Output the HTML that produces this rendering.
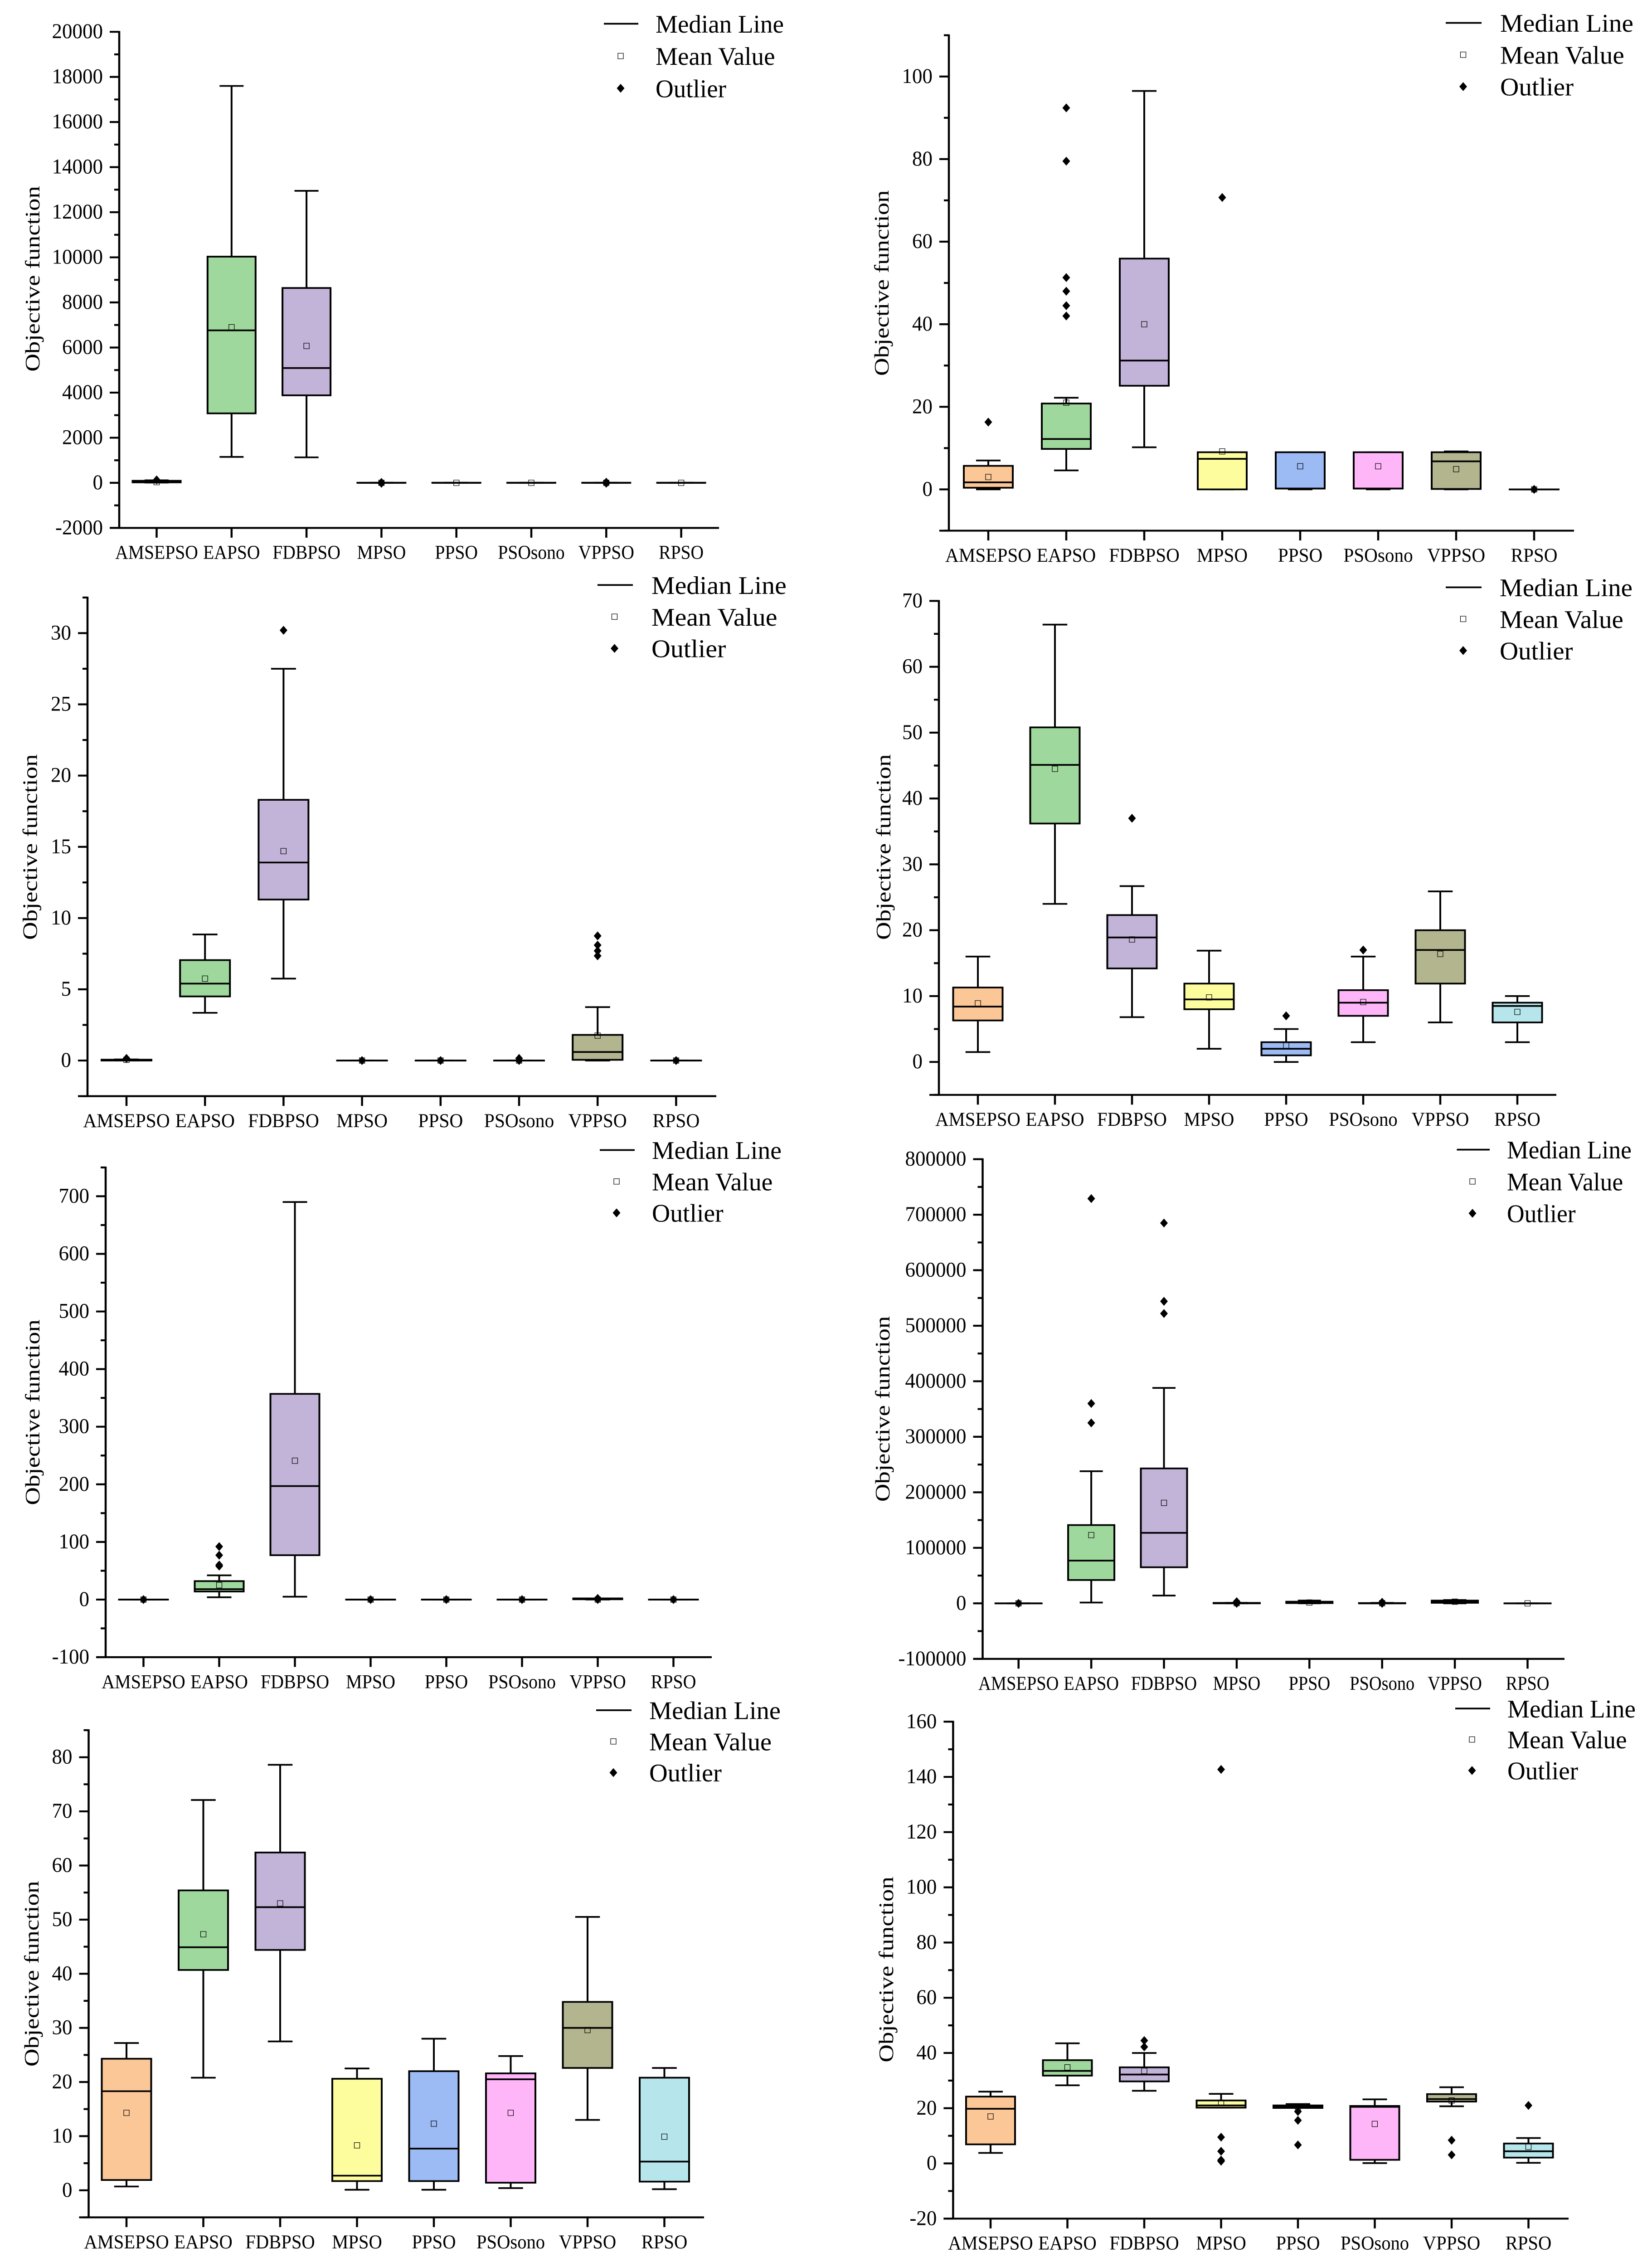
<!DOCTYPE html>
<html lang="en">
<head>
<meta charset="utf-8">
<title>Objective function box plots</title>
<style>
html,body{margin:0;padding:0;background:#fff;width:100%;height:100%;overflow:hidden;}
svg{display:block;position:fixed;left:0;top:0;width:100vw;height:100vh;}
text{font-family:"Liberation Serif","Times New Roman",serif;fill:#000;}
</style>
</head>
<body>
<svg id="figure" xmlns="http://www.w3.org/2000/svg" viewBox="0 0 3644 5342" preserveAspectRatio="none"></svg>
<script>
const categories = ['AMSEPSO','EAPSO','FDBPSO','MPSO','PPSO','PSOsono','VPPSO','RPSO'];
const boxColors = ['#FCC797','#9FD89C','#C2B3D8','#FDFD9E','#9CBAF4','#FEB6F8','#B2B58E','#B6E6EC'];
const legendLabels = ['Median Line','Mean Value','Outlier'];
const yAxisTitle = 'Objective function';

const p1Ticks = [-2000,0,2000,4000,6000,8000,10000,12000,14000,16000,18000,20000];
const p1WhiskerLow = [10,1150,1130,0,0,0,0,0];
const p1Q1 = [20,3080,3880,0,0,0,0,0];
const p1Median = [60,6760,5090,0,0,0,0,0];
const p1Q3 = [90,10030,8640,5,5,5,5,5];
const p1WhiskerHigh = [110,17600,12950,5,5,5,5,5];
const p1Mean = [30,6900,6070,0,0,0,0,0];
const p1Outliers = [[130],[],[],[20,-20],[],[],[30,-20],[]];

const p2Ticks = [0,20,40,60,80,100];
const p2WhiskerLow = [0,4.6,10.2,0,0,0,0,0];
const p2Q1 = [0.4,9.8,25.1,0,0.2,0.2,0.1,0];
const p2Median = [1.7,12.2,31.2,7.4,0.2,0.2,6.8,0];
const p2Q3 = [5.7,20.8,55.9,9,9,9,9,0];
const p2WhiskerHigh = [7,22.2,96.5,9,9,9,9.2,0];
const p2Mean = [3,21,40,9.2,5.6,5.6,4.9,0];
const p2Outliers = [[16.3],[92.4,79.5,51.3,48,44.5,42],[],[70.7],[],[],[],[0]];

const p3Ticks = [0,5,10,15,20,25,30];
const p3WhiskerLow = [0,3.35,5.75,0,0,0,0,0];
const p3Q1 = [0,4.5,11.3,0,0,0,0.05,0];
const p3Median = [0.03,5.4,13.9,0,0,0,0.6,0];
const p3Q3 = [0.06,7.05,18.3,0,0,0,1.8,0];
const p3WhiskerHigh = [0.08,8.85,27.5,0,0,0,3.75,0];
const p3Mean = [0.05,5.75,14.7,0,0,0,1.75,0];
const p3Outliers = [[0.15],[],[30.2],[0],[0],[0.15,0],[8.75,8.1,7.7,7.35],[0]];

const p4Ticks = [0,10,20,30,40,50,60,70];
const p4WhiskerLow = [1.5,24,6.8,2,0,3,6,3];
const p4Q1 = [6.3,36.2,14.2,8,1,7,11.9,6];
const p4Median = [8.4,45.1,18.9,9.5,2,9,17,8.5];
const p4Q3 = [11.3,50.8,22.3,11.9,3,10.9,20,9];
const p4WhiskerHigh = [16,66.4,26.7,16.9,5,16,25.9,10];
const p4Mean = [8.9,44.5,18.6,9.8,2.5,9.1,16.4,7.6];
const p4Outliers = [[],[],[37],[],[7],[17],[],[]];

const p5Ticks = [-100,0,100,200,300,400,500,600,700];
const p5WhiskerLow = [0,4,5,0,0,0,0,0];
const p5Q1 = [0,14,77,0,0,0,0.5,0];
const p5Median = [0,18,197,0,0,0,1,0];
const p5Q3 = [0,32,357,0,0,0,2,0];
const p5WhiskerHigh = [0,42,690,0,0,0,2,0];
const p5Mean = [0,25,241,0,0,0,0,0];
const p5Outliers = [[0],[92,77,60,58],[],[0],[0],[0],[2,0],[0]];

const p6Ticks = [-100000,0,100000,200000,300000,400000,500000,600000,700000,800000];
const p6WhiskerLow = [0,1500,14000,0,0,0,0,0];
const p6Q1 = [0,42000,65000,0,500,0,1000,0];
const p6Median = [0,77000,127000,300,1500,0,3000,0];
const p6Q3 = [0,141000,243000,800,3000,500,5000,0];
const p6WhiskerHigh = [0,238000,388000,1000,5000,800,6000,0];
const p6Mean = [0,123000,181000,500,1500,300,3000,0];
const p6Outliers = [[0],[729000,360000,325000],[685000,544000,522000],[3000,0],[],[2000,0],[],[]];

const p7Ticks = [0,10,20,30,40,50,60,70,80];
const p7WhiskerLow = [0.7,20.8,27.5,0.1,0.1,0.4,13,0.2];
const p7Q1 = [1.9,40.7,44.4,1.7,1.7,1.4,22.6,1.6];
const p7Median = [18.3,44.9,52.3,2.7,7.7,20.5,30,5.3];
const p7Q3 = [24.3,55.4,62.4,20.6,22,21.6,34.8,20.8];
const p7WhiskerHigh = [27.2,72.1,78.6,22.5,28,24.8,50.5,22.6];
const p7Mean = [14.3,47.3,53,8.3,12.3,14.3,29.6,9.9];
const p7Outliers = [[],[],[],[],[],[],[],[]];

const p8Ticks = [-20,0,20,40,60,80,100,120,140,160];
const p8WhiskerLow = [3.8,28.3,26.3,20.2,20.2,0.1,20.7,0.2];
const p8Q1 = [6.9,31.8,29.7,20.2,20.1,1.3,22.4,2.1];
const p8Median = [19.8,33.5,32.2,21,20.5,20.5,23.3,4.4];
const p8Q3 = [24.2,37.4,34.8,22.8,21,20.8,25.1,7.2];
const p8WhiskerHigh = [26,43.5,40,25.2,21.5,23.2,27.6,9.2];
const p8Mean = [17,34.8,33.5,22,20.5,14.3,22.8,6];
const p8Outliers = [[],[],[44.5,42.2],[142.7,9.5,4.4,1.2,0.8],[18.8,15.6,6.7],[],[8.4,3.1],[21]];

const panels = [
  {id:1,ticks:p1Ticks,low:p1WhiskerLow,q1:p1Q1,med:p1Median,q3:p1Q3,high:p1WhiskerHigh,mean:p1Mean,out:p1Outliers,
   yMin:-2000,yMax:20000,yBottom:1244,yTop:75,axisX:263,axisRight:1586,cat0:345.5,step:165.3,boxW:106,
   titleX:87,titleY:657,lineX1:1332,lineX2:1408,markX:1369,textX:1446,textW:283,legY:56,legGap:76},
  {id:2,ticks:p2Ticks,low:p2WhiskerLow,q1:p2Q1,med:p2Median,q3:p2Q3,high:p2WhiskerHigh,mean:p2Mean,out:p2Outliers,
   yMin:-10,yMax:110,yBottom:1250.5,yTop:83,axisX:2093,axisRight:3472,cat0:2180,step:172,boxW:108,
   titleX:1960,titleY:667,lineX1:3189,lineX2:3268,markX:3227.5,textX:3309,textW:294,legY:54,legGap:75},
  {id:3,ticks:p3Ticks,low:p3WhiskerLow,q1:p3Q1,med:p3Median,q3:p3Q3,high:p3WhiskerHigh,mean:p3Mean,out:p3Outliers,
   yMin:-2.5,yMax:32.5,yBottom:2583,yTop:1408,axisX:193,axisRight:1580,cat0:279,step:173.2,boxW:110,
   titleX:81.5,titleY:1996,lineX1:1318,lineX2:1396,markX:1355.5,textX:1437,textW:298,legY:1378.5,legGap:74.7},
  {id:4,ticks:p4Ticks,low:p4WhiskerLow,q1:p4Q1,med:p4Median,q3:p4Q3,high:p4WhiskerHigh,mean:p4Mean,out:p4Outliers,
   yMin:-5,yMax:70,yBottom:2580,yTop:1416,axisX:2071,axisRight:3433,cat0:2157,step:170,boxW:109,
   titleX:1964,titleY:1996,lineX1:3189,lineX2:3268,markX:3227.5,textX:3308,textW:293,legY:1384,legGap:74.5},
  {id:5,ticks:p5Ticks,low:p5WhiskerLow,q1:p5Q1,med:p5Median,q3:p5Q3,high:p5WhiskerHigh,mean:p5Mean,out:p5Outliers,
   yMin:-100,yMax:750,yBottom:3905,yTop:2751,axisX:233,axisRight:1570,cat0:316.5,step:167,boxW:108,
   titleX:87,titleY:3328,lineX1:1323,lineX2:1400,markX:1360,textX:1438,textW:286,legY:2710,legGap:74},
  {id:6,ticks:p6Ticks,low:p6WhiskerLow,q1:p6Q1,med:p6Median,q3:p6Q3,high:p6WhiskerHigh,mean:p6Mean,out:p6Outliers,
   yMin:-100000,yMax:800000,yBottom:3909,yTop:2731.5,axisX:2167.5,axisRight:3451,cat0:2246.7,step:160.4,boxW:102,
   titleX:1962,titleY:3320,lineX1:3213.5,lineX2:3286,markX:3248,textX:3324,textW:275,legY:2709,legGap:75},
  {id:7,ticks:p7Ticks,low:p7WhiskerLow,q1:p7Q1,med:p7Median,q3:p7Q3,high:p7WhiskerHigh,mean:p7Mean,out:p7Outliers,
   yMin:-5,yMax:85,yBottom:5225,yTop:4077,axisX:195.5,axisRight:1553,cat0:279,step:169.5,boxW:109,
   titleX:85,titleY:4651,lineX1:1315,lineX2:1393,markX:1353,textX:1432,textW:290,legY:4030,legGap:73.5},
  {id:8,ticks:p8Ticks,low:p8WhiskerLow,q1:p8Q1,med:p8Median,q3:p8Q3,high:p8WhiskerHigh,mean:p8Mean,out:p8Outliers,
   yMin:-20,yMax:160,yBottom:5228,yTop:4057,axisX:2102.4,axisRight:3460,cat0:2185,step:169.5,boxW:108,
   titleX:1970,titleY:4641,lineX1:3210,lineX2:3287,markX:3247,textX:3325,textW:283,legY:4026,legGap:73}
];

const SVGNS = 'http://www.w3.org/2000/svg';

function mark(parent, type, attrs, name) {
  const el = document.createElementNS(SVGNS, type);
  for (const k in attrs) el.setAttribute(k, attrs[k]);
  
  
  parent.appendChild(el);
  return el;
}

function hline(parent, x1, x2, y, w, name) {
  return mark(parent, 'line', {x1:x1, x2:x2, y1:y, y2:y, stroke:'#000', 'stroke-width':w}, name);
}
function vline(parent, x, y1, y2, w, name) {
  return mark(parent, 'line', {x1:x, x2:x, y1:y1, y2:y2, stroke:'#000', 'stroke-width':w}, name);
}
function label(parent, str, x, y, size, sx, anchor, name) {
  const t = mark(parent, 'text', {
    transform:'translate(' + x + ' ' + y + ') scale(' + sx + ' 1)',
    'font-size':size, 'text-anchor':anchor
  }, name);
  t.textContent = str;
  return t;
}
function diamond(parent, cx, cy, name) {
  return mark(parent, 'polygon', {
    points:(cx-8.5)+','+cy+' '+cx+','+(cy-10.5)+' '+(cx+8.5)+','+cy+' '+cx+','+(cy+10.5),
    fill:'#000'
  }, name);
}
function meanSquare(parent, cx, cy, name) {
  return mark(parent, 'rect', {
    x:cx-6, y:cy-6.5, width:12, height:13, fill:'none', stroke:'#000', 'stroke-width':1.2
  }, name);
}

const figure = document.getElementById('figure');

panels.forEach(function (p) {
  const g = mark(figure, 'g', {}, 'chart-panel-' + p.id);
  const yScale = function (v) {
    return p.yBottom + (v - p.yMin) * (p.yTop - p.yBottom) / (p.yMax - p.yMin);
  };
  const xScale = function (i) { return p.cat0 + i * p.step; };

  /* y axis */
  const yAxis = mark(g, 'g', {}, 'y-axis');
  vline(yAxis, p.axisX, p.yTop - 2, p.yBottom + 2, 4.5, 'y-axis-line');
  const major = p.ticks[1] - p.ticks[0];
  for (let v = p.ticks[0] - major / 2; v <= p.yMax + 1e-9; v += major) {
    if (v >= p.yMin - 1e-9) hline(yAxis, p.axisX - 11, p.axisX, yScale(v), 4.5, 'y-minor-tick');
  }
  p.ticks.forEach(function (v) {
    hline(yAxis, p.axisX - 21, p.axisX, yScale(v), 4.5, 'y-major-tick');
    label(yAxis, String(v), p.axisX - 36, yScale(v) + 15, 50, 0.9, 'end', 'y-tick-label');
  });
  const title = mark(yAxis, 'text', {
    transform:'translate(' + p.titleX + ' ' + p.titleY + ') rotate(-90) scale(1.01 0.78)',
    'font-size':58, 'text-anchor':'middle'
  }, 'y-axis-title');
  title.textContent = yAxisTitle;

  /* x axis */
  const xAxis = mark(g, 'g', {}, 'x-axis');
  hline(xAxis, p.axisX - 21, p.axisRight, p.yBottom, 4.5, 'x-axis-line');
  const xSx = p.step * 1.105 / (4.612 * 46);
  categories.forEach(function (c, i) {
    vline(xAxis, xScale(i), p.yBottom, p.yBottom + 23, 4.5, 'x-tick');
    label(xAxis, c, xScale(i), p.yBottom + 73, 46, xSx, 'middle', 'x-tick-label');
  });

  /* boxes */
  categories.forEach(function (c, i) {
    const b = mark(g, 'g', {}, 'box-' + c.toLowerCase());
    const x = xScale(i);
    const capHalf = p.boxW / 4;
    vline(b, x, yScale(p.low[i]), yScale(p.high[i]), 4, 'whisker');
    hline(b, x - capHalf, x + capHalf, yScale(p.low[i]), 4, 'whisker-cap-low');
    hline(b, x - capHalf, x + capHalf, yScale(p.high[i]), 4, 'whisker-cap-high');
    const top = yScale(p.q3[i]);
    const bottom = yScale(p.q1[i]);
    mark(b, 'rect', {
      x:x - p.boxW / 2, y:top, width:p.boxW, height:Math.max(bottom - top, 0.1),
      fill:boxColors[i], stroke:'#000', 'stroke-width':4
    }, 'interquartile-box');
    hline(b, x - p.boxW / 2, x + p.boxW / 2, yScale(p.med[i]), 4, 'median-line');
    meanSquare(b, x, yScale(p.mean[i]), 'mean-marker');
    p.out[i].forEach(function (v) {
      diamond(b, x, yScale(v), 'outlier-point');
    });
  });

  /* legend */
  const legend = mark(g, 'g', {}, 'legend');
  const legSx = p.textW / (5.138 * 60);
  hline(legend, p.lineX1, p.lineX2, p.legY, 4, 'legend-median-line');
  meanSquare(legend, p.markX, p.legY + p.legGap, 'legend-mean-marker');
  diamond(legend, p.markX, p.legY + p.legGap * 2, 'legend-outlier-marker');
  legendLabels.forEach(function (s, i) {
    label(legend, s, p.textX, p.legY + p.legGap * i + 21, 60, legSx, 'start', 'legend-entry');
  });
});
</script>
</body>
</html>
